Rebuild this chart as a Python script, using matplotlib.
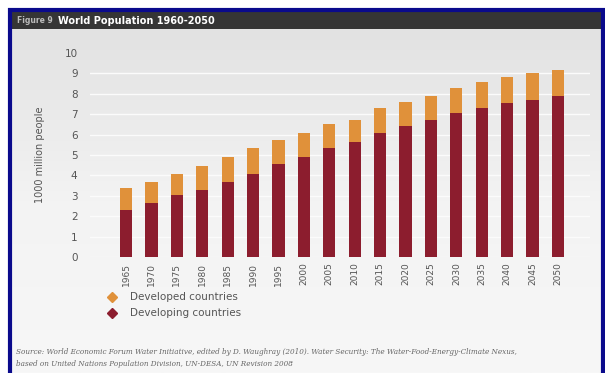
import numpy as np
import matplotlib
matplotlib.use("Agg")
import matplotlib.pyplot as plt
from matplotlib.patches import Rectangle

years = ["1965", "1970", "1975", "1980", "1985", "1990", "1995", "2000", "2005",
         "2010", "2015", "2020", "2025", "2030", "2035", "2040", "2045", "2050"]
developing = [2.30, 2.65, 3.04, 3.30, 3.68, 4.08, 4.55, 4.92, 5.33,
              5.65, 6.06, 6.42, 6.72, 7.04, 7.32, 7.53, 7.70, 7.91]
total = [3.38, 3.68, 4.07, 4.47, 4.88, 5.33, 5.74, 6.10, 6.50,
         6.72, 7.32, 7.61, 7.91, 8.30, 8.60, 8.81, 9.04, 9.17]
developed = [t - d for t, d in zip(total, developing)]
yticks = list(range(0, 11))

W, H = 605, 373
fig = plt.figure(figsize=(W / 100, H / 100), dpi=100)
fig.patch.set_facecolor("white")

def fx(px):
    return px / W

def fy(py):
    return 1 - py / H

# background gradient
bg = fig.add_axes([fx(12), 0, fx(590), fy(29)])
grad = np.linspace(0, 1, 256).reshape(-1, 1)
from matplotlib.colors import LinearSegmentedColormap
cmap = LinearSegmentedColormap.from_list("bg", ["#e2e2e2", "#f3f3f3", "#f7f7f7"])
bg.imshow(grad, aspect="auto", cmap=cmap, extent=[0, 1, 0, 1], origin="upper")
bg.set_axis_off()
bg.set_zorder(-10)

# header
fig.patches.append(Rectangle((fx(12), fy(29)), fx(590), (29 - 12) / H,
                             transform=fig.transFigure, facecolor="#353535",
                             edgecolor="none", zorder=1))
fig.text(fx(17), fy(20.5), "Figure 9", color="#bbbbbb", fontsize=5.5,
         va="center", ha="left", fontweight="bold")
fig.text(fx(58), fy(20.5), "World Population 1960-2050", color="white",
         fontsize=7, va="center", ha="left", fontweight="bold")

# navy frame
fig.patches.append(Rectangle((fx(10), -0.02), fx(593), fy(10) + 0.02,
                             transform=fig.transFigure, facecolor="none",
                             edgecolor="#0a0a8c", linewidth=3, zorder=5))

ax = fig.add_axes([fx(90), fy(257), fx(500), (257 - 53) / H])
ax.set_facecolor("none")
x = np.arange(len(years))
ax.bar(x, developing, width=0.48, color="#8c1d2e", zorder=3,
       label="Developing countries")
ax.bar(x, developed, bottom=developing, width=0.48, color="#e0913a", zorder=3,
       label="Developed countries")
for v in yticks[:-1]:
    ax.axhline(v, color="#fbfbfb", linewidth=1.0, zorder=1)
ax.set_ylim(0, 10)
ax.set_xlim(-1.42, 18.26)
ax.set_yticks(yticks)
ax.set_yticklabels([str(v) for v in yticks], fontsize=7.5, color="#555555")
ax.set_xticks(x)
ax.set_xticklabels(years, rotation=90, fontsize=6.5, color="#555555")
ax.tick_params(axis="both", length=0, pad=9)
ax.tick_params(axis="x", pad=4)
for s in ax.spines.values():
    s.set_visible(False)
ax.set_ylabel("1000 million people", fontsize=7, color="#555555", labelpad=14)

# legend
fig.lines.append(plt.Line2D([fx(112)], [fy(297)], marker="D", markersize=5,
                            color="#e0913a", transform=fig.transFigure))
fig.lines.append(plt.Line2D([fx(112)], [fy(313)], marker="D", markersize=5,
                            color="#8c1d2e", transform=fig.transFigure))
fig.text(fx(130), fy(297), "Developed countries", fontsize=7.5, color="#555555",
         va="center", ha="left")
fig.text(fx(130), fy(313), "Developing countries", fontsize=7.5, color="#555555",
         va="center", ha="left")

# source
fig.text(fx(16), fy(352), "Source: World Economic Forum Water Initiative, edited by D. Waughray (2010). "
         "Water Security: The Water-Food-Energy-Climate Nexus,",
         fontsize=5.2, style="italic", family="DejaVu Serif", color="#666666",
         va="center", ha="left")
fig.text(fx(16), fy(364), "based on United Nations Population Division, UN-DESA, UN Revision 2008",
         fontsize=5.2, style="italic", family="DejaVu Serif", color="#666666",
         va="center", ha="left")

fig.savefig("out.png", dpi=100)
